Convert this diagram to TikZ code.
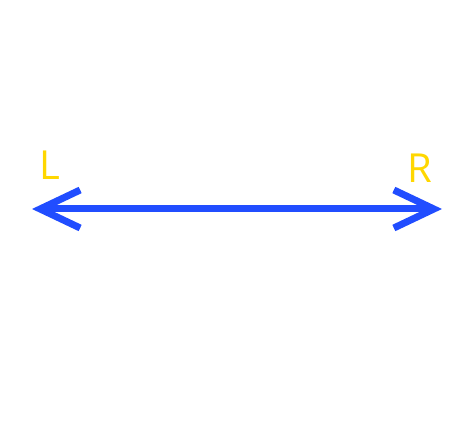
\documentclass[tikz,border=0pt]{standalone}
\usepackage{fontspec}
\setmainfont{Open Sans}
\usetikzlibrary{arrows.meta, positioning}
\definecolor{arrowblue}{RGB}{33, 77, 255}
\definecolor{labelgold}{RGB}{255, 215, 0}

\begin{document}
\begin{tikzpicture}[x=1pt, y=-1pt]
  \useasboundingbox (0,0) rectangle (475,438);
  \coordinate (lend) at (32,209);
  \coordinate (rend) at (442,209);
  \draw[arrowblue, line width=7pt,
        {Straight Barb[length=40pt, width=38pt, line cap=butt, line join=miter]}-{Straight Barb[length=40pt, width=38pt, line cap=butt, line join=miter]}]
        (lend) -- (rend);
  \node[labelgold, font=\fontsize{40}{40}\selectfont, inner sep=0pt] (lbl) at (50,165) {L};
  \node[labelgold, font=\fontsize{40}{40}\selectfont, inner sep=0pt] (rbl) at (420,168) {R};
\end{tikzpicture}
\end{document}
